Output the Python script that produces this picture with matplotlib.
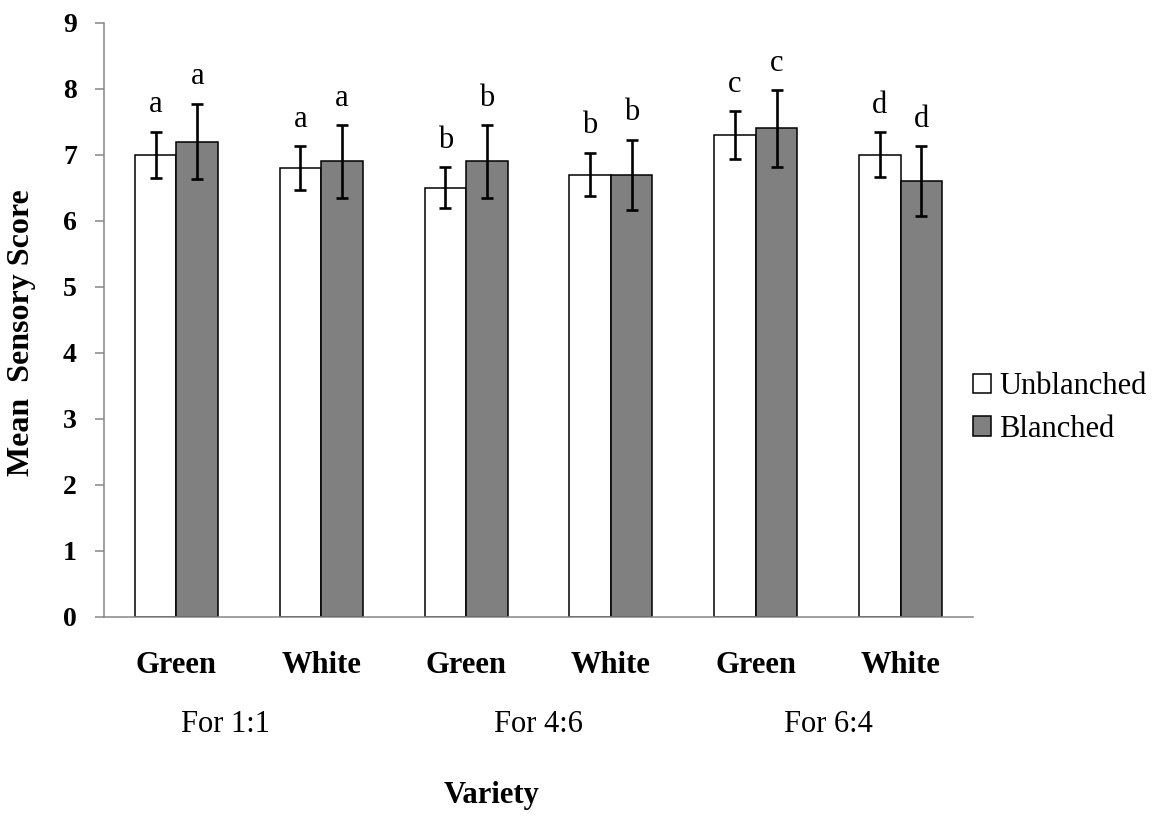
import numpy as np
import matplotlib.pyplot as plt
from matplotlib.patches import Patch

plt.rcParams['font.family'] = ['Liberation Serif', 'DejaVu Serif']

# data
varieties = ['Green', 'White', 'Green', 'White', 'Green', 'White']
ratios = ['For 1:1', 'For 4:6', 'For 6:4']
unblanched = [7.0, 6.8, 6.5, 6.7, 7.3, 7.0]
unblanched_err = [0.35, 0.33, 0.31, 0.33, 0.36, 0.34]
blanched = [7.2, 6.9, 6.9, 6.7, 7.4, 6.6]
blanched_err = [0.57, 0.55, 0.55, 0.53, 0.58, 0.53]
letters_unblanched = ['a', 'a', 'b', 'b', 'c', 'd']
letters_blanched = ['a', 'a', 'b', 'b', 'c', 'd']

axis_grey = '#868686'

fig = plt.figure(figsize=(11.62, 8.16), dpi=100)
ax = fig.add_axes([104 / 1162, 1 - 617 / 816, 869 / 1162, 594.3 / 816])

x = np.arange(len(varieties))
w = 0.287
err_kw = dict(ecolor='black', elinewidth=1.9, capsize=4.5, capthick=1.9)
ax.bar(x - w / 2, unblanched, w, yerr=unblanched_err, color='white',
       edgecolor='black', linewidth=1.1, error_kw=err_kw, label='Unblanched')
ax.bar(x + w / 2, blanched, w, yerr=blanched_err, color='#808080',
       edgecolor='black', linewidth=1.1, error_kw=err_kw, label='Blanched')

# significance letters above error bars
for i in range(len(x)):
    ax.annotate(letters_unblanched[i], (x[i] - w / 2, unblanched[i] + unblanched_err[i]),
                xytext=(0, 14), textcoords='offset points', ha='center',
                va='baseline', fontsize=22)
    ax.annotate(letters_blanched[i], (x[i] + w / 2, blanched[i] + blanched_err[i]),
                xytext=(0, 14), textcoords='offset points', ha='center',
                va='baseline', fontsize=22)

ax.set_xlim(-0.5, len(x) - 0.5)
ax.set_ylim(0, 9)
ax.set_yticks(range(10))
ax.set_xticks(x)
ax.set_xticklabels(varieties, fontsize=22, fontweight='bold')
ax.tick_params(axis='x', length=0, pad=24.5)
ax.tick_params(axis='y', direction='out', length=6.5, width=1.1,
               color=axis_grey, pad=13, labelsize=20)
for lab in ax.get_yticklabels():
    lab.set_fontweight('bold')

for s in ['top', 'right']:
    ax.spines[s].set_visible(False)
for s in ['left', 'bottom']:
    ax.spines[s].set_color(axis_grey)
    ax.spines[s].set_linewidth(1.1)

# ratio labels under each pair
group_x = [0.34, 2.5, 4.5]
for gx, r in zip(group_x, ratios):
    ax.text(gx, -1.63, r, ha='center', va='center', fontsize=22,
            transform=ax.transData, clip_on=False)

fig.text(491 / 1162, 1 - 795 / 816, 'Variety', ha='center', va='center',
         fontsize=22, fontweight='bold')
fig.text(22 / 1162, 1 - 333 / 816, 'Mean  Sensory Score', ha='center',
         va='center', rotation=90, fontsize=23, fontweight='bold')

handles = [Patch(facecolor='white', edgecolor='black', linewidth=1.1),
           Patch(facecolor='#808080', edgecolor='black', linewidth=1.1)]
fig.legend(handles, ['Unblanched', 'Blanched'], loc='center left',
           bbox_to_anchor=(973 / 1162, 1 - 408 / 816), frameon=False,
           fontsize=22, handlelength=0.6, handleheight=0.6, handletextpad=0.25,
           labelspacing=0.45, borderaxespad=0, borderpad=0)

fig.savefig('out.png', dpi=100)
